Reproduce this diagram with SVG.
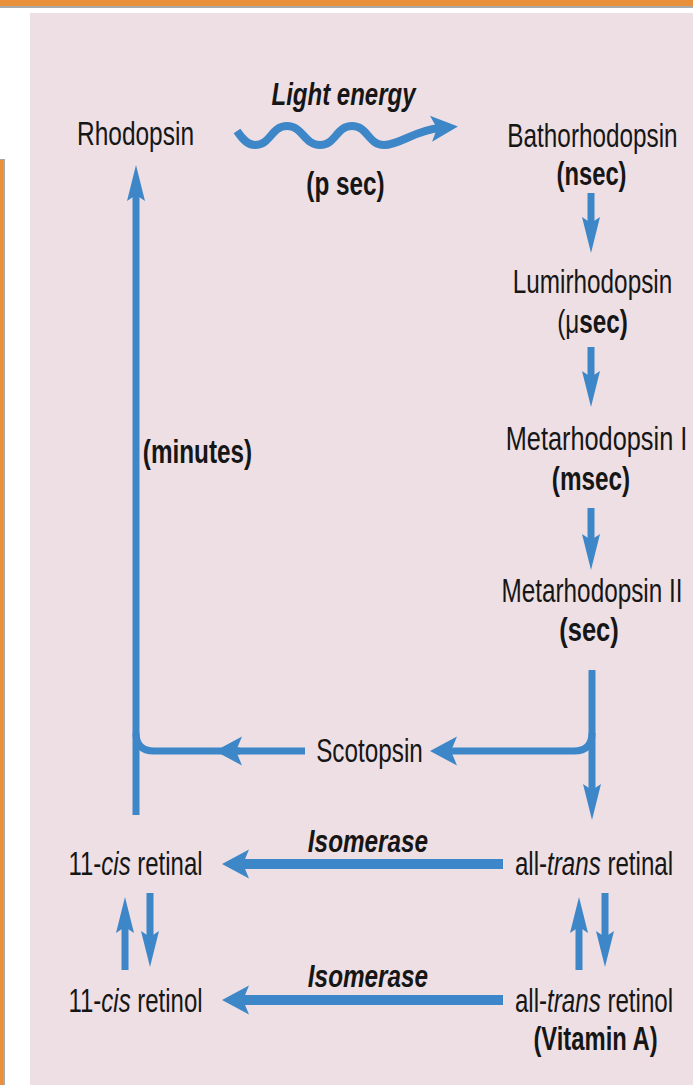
<svg xmlns="http://www.w3.org/2000/svg" width="693" height="1085" viewBox="0 0 693 1085">
<style>
.t{font-family:"Liberation Sans",Arial,sans-serif;font-size:34px;fill:#161616;text-anchor:middle}
.b{font-weight:bold}
.bi{font-weight:bold;font-style:italic;font-size:32px}
.i{font-style:italic}
.c{fill:none;stroke:#3d87c9;stroke-width:7}
.w{stroke-width:10}
</style>
<defs>
<marker id="hl" markerUnits="userSpaceOnUse" orient="auto" viewBox="-30 -30 60 60" markerWidth="60" markerHeight="60" refX="0" refY="0" overflow="visible">
<path d="M20,0 L-7,-14.5 L-1,0 L-7,14.5 Z" fill="#3d87c9"/>
</marker>
<marker id="hm" markerUnits="userSpaceOnUse" orient="auto" viewBox="-30 -30 60 60" markerWidth="60" markerHeight="60" refX="0" refY="0" overflow="visible">
<path d="M18,0 L-9,-13 L-3,0 L-9,13 Z" fill="#3d87c9"/>
</marker>
<marker id="hv" markerUnits="userSpaceOnUse" orient="auto" viewBox="-30 -30 60 60" markerWidth="60" markerHeight="60" refX="0" refY="0" overflow="visible">
<path d="M26,0 L-10,-9 L-4,0 L-10,9 Z" fill="#3d87c9"/>
</marker>
</defs>
<rect x="0" y="0" width="693" height="1085" fill="#ffffff"/>
<rect x="0" y="0" width="693" height="6" fill="#e8913a"/>
<rect x="0" y="6" width="693" height="2" fill="#a9a9a9"/>
<rect x="0" y="159" width="5" height="926" fill="#a9a9a9"/>
<rect x="0" y="160" width="3" height="925" fill="#e8913a"/>
<rect x="30" y="13" width="663" height="1072" fill="#eddfe3"/>

<g id="connectors">
<path class="c" style="stroke-width:8" d="M237,131 C243,140 248,145 255,145 C271,145 271,126 287,126 C303,126 304,145 320,145 C336,145 336,126 352,126 C368,126 368,145 384,145 C400,145 415,130 440,128" marker-end="url(#hm)"/>
<path class="c" d="M591,193 L591,227" marker-end="url(#hv)"/>
<path class="c" d="M591,347 L591,381" marker-end="url(#hv)"/>
<path class="c" d="M591,508 L591,544" marker-end="url(#hv)"/>
<path class="c" d="M592,670 L592,794" marker-end="url(#hv)"/>
<path class="c" d="M592,733 Q592,751 574,751 L450,751" marker-end="url(#hl)"/>
<path class="c" d="M305,751 L235,751" marker-end="url(#hl)"/>
<path class="c" d="M240,751 L154,751 Q136,751 136,733"/>
<path class="c" d="M136,815 L136,191" marker-end="url(#hv)"/>
<path class="c w" d="M503,864 L242,864" marker-end="url(#hl)"/>
<path class="c w" d="M503,1000 L242,1000" marker-end="url(#hl)"/>
<path class="c" d="M125,970 L125,923" marker-end="url(#hv)"/>
<path class="c" d="M150,893 L150,941" marker-end="url(#hv)"/>
<path class="c" d="M579,970 L579,923" marker-end="url(#hv)"/>
<path class="c" d="M605,893 L605,941" marker-end="url(#hv)"/>
</g>

<g id="label-light"><text class="t bi" transform="translate(343.5,105) scale(0.75,1)">Light energy</text></g>
<g id="label-psec"><text class="t b" transform="translate(345.5,195) scale(0.715,1)">(p sec)</text></g>
<g id="node-rhodopsin"><text class="t" transform="translate(135.5,145) scale(0.72,1)">Rhodopsin</text></g>
<g id="node-bathorhodopsin">
<text class="t" transform="translate(592.5,147) scale(0.715,1)">Bathorhodopsin</text>
<text class="t b" transform="translate(591.5,185) scale(0.7,1)">(nsec)</text>
</g>
<g id="node-lumirhodopsin">
<text class="t" transform="translate(592.5,293) scale(0.715,1)">Lumirhodopsin</text>
<text class="t b" transform="translate(592.5,333) scale(0.715,1)"><tspan font-weight="normal">(μ</tspan>sec)</text>
</g>
<g id="node-meta1">
<text class="t" transform="translate(596.5,450) scale(0.745,1)">Metarhodopsin I</text>
<text class="t b" transform="translate(591,490) scale(0.715,1)">(msec)</text>
</g>
<g id="node-meta2">
<text class="t" transform="translate(592,602) scale(0.715,1)">Metarhodopsin II</text>
<text class="t b" transform="translate(589,641) scale(0.75,1)">(sec)</text>
</g>
<g id="label-minutes"><text class="t b" transform="translate(197.5,463) scale(0.715,1)">(minutes)</text></g>
<g id="node-scotopsin"><text class="t" transform="translate(369.5,762) scale(0.715,1)">Scotopsin</text></g>
<g id="label-isomerase1"><text class="t bi" transform="translate(368,852) scale(0.76,1)">Isomerase</text></g>
<g id="label-isomerase2"><text class="t bi" transform="translate(368,987) scale(0.76,1)">Isomerase</text></g>
<g id="node-cis-retinal"><text class="t" transform="translate(135.5,875) scale(0.705,1)">11-<tspan class="i">cis</tspan> retinal</text></g>
<g id="node-cis-retinol"><text class="t" transform="translate(135.5,1012) scale(0.705,1)">11-<tspan class="i">cis</tspan> retinol</text></g>
<g id="node-trans-retinal"><text class="t" transform="translate(594,875) scale(0.71,1)">all-<tspan class="i">trans</tspan> retinal</text></g>
<g id="node-trans-retinol">
<text class="t" transform="translate(594,1012) scale(0.71,1)">all-<tspan class="i">trans</tspan> retinol</text>
<text class="t b" transform="translate(595.5,1050) scale(0.7,1)">(Vitamin A)</text>
</g>
</svg>
